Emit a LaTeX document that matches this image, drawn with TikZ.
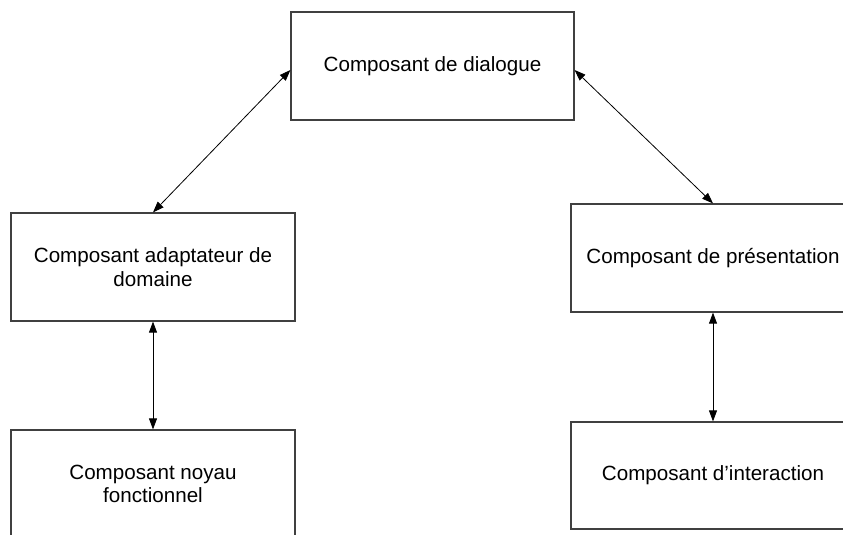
\documentclass[tikz,border=0pt]{standalone}
\usepackage{fontspec}
\setmainfont{Liberation Sans}
\usetikzlibrary{arrows.meta}
\begin{document}
\begin{tikzpicture}[x=1pt,y=-1pt,
  comp/.style={draw=black!75,line width=1.2pt,rectangle,minimum width=284pt,minimum height=108pt,align=center,inner sep=0pt,font=\fontsize{20.6}{23.5}\selectfont},
  link/.style={line width=0.8pt,{Triangle[length=11pt,width=8pt]}-{Triangle[length=11pt,width=8pt]}}]
\useasboundingbox (0,0) rectangle (843,535);
\clip (0,0) rectangle (843,535);
\node[comp,minimum width=283pt] (dial) at (432.5,66) {\raisebox{-3pt}{Composant de dialogue}};
\node[comp] (adapt) at (153,267) {Composant adaptateur de\\domaine};
\node[comp] (noyau) at (153,484) {Composant noyau\\fonctionnel};
\node[comp] (pres) at (713,258) {Composant de présentation};
\node[comp,minimum height=107pt] (inter) at (713,475.5) {Composant d’interaction};
\draw[link] ([yshift=-4pt]dial.west) -- (adapt.north);
\draw[link] ([yshift=-4pt]dial.east) -- (pres.north);
\draw[link] (adapt.south) -- (noyau.north);
\draw[link] (pres.south) -- (inter.north);
\end{tikzpicture}
\end{document}
